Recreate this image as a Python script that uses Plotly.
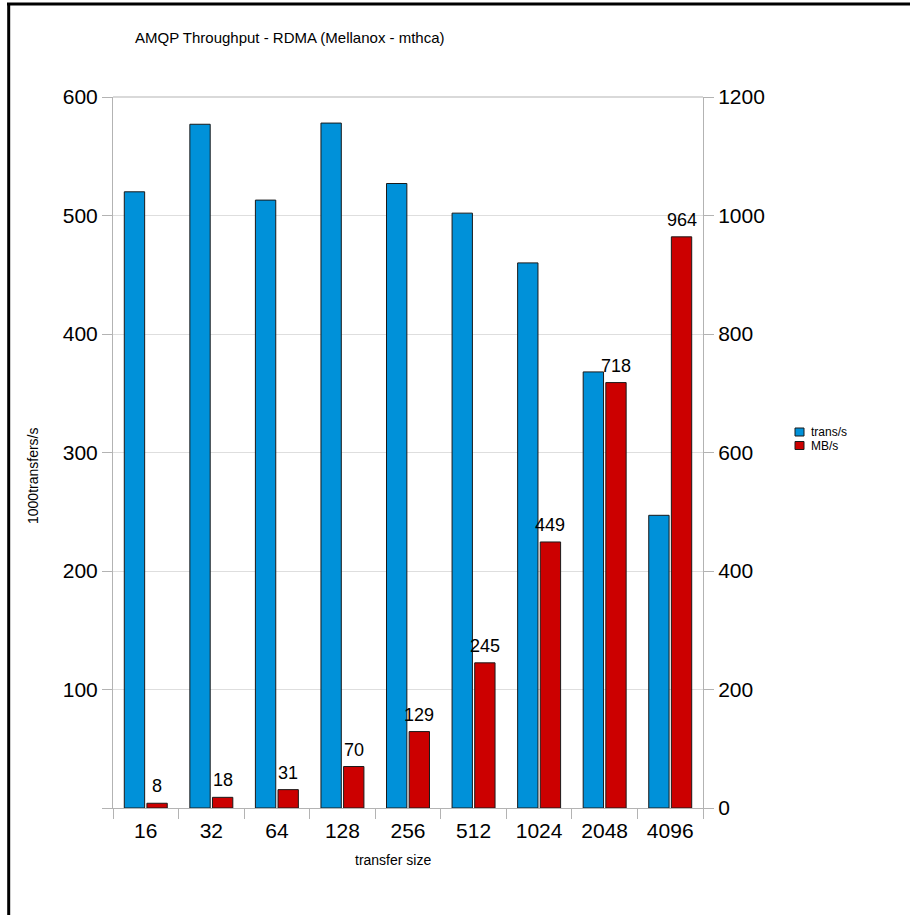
import plotly.graph_objects as go

# Transfer sizes (bytes) and measured throughput per size
sizes = ["16", "32", "64", "128", "256", "512", "1024", "2048", "4096"]
trans_per_s = [520, 577, 513, 578, 527, 502, 460, 368, 247]   # 1000 transfers/s
mb_per_s = [8, 18, 31, 70, 129, 245, 449, 718, 964]          # MB/s

series_names = ["trans/s", "MB/s"]

left_ticks = [0, 100, 200, 300, 400, 500, 600]
left_labels = ["", "100", "200", "300", "400", "500", "600"]
right_ticks = [0, 200, 400, 600, 800, 1000, 1200]

BLUE = "#0091d9"
RED = "#cc0000"
AXIS = "#b3b3b3"
GRID = "#dedede"
EDGE = "#1a1a1a"
FONT = "Liberation Sans, Arial, sans-serif"

W, H = 910, 915
ML, MR, MT, MB = 113, 207, 97, 107
PW, PH = W - ML - MR, H - MT - MB

BARGAP = 0.31
CAT_W = PW / len(sizes)
# centre of the second bar in each group, relative to the category centre
RED_SHIFT = CAT_W * (1 - BARGAP) / 4


def px_x(x):
    return (x - ML) / PW


def px_y(y):
    return (H - MB - y) / PH


fig = go.Figure()
fig.add_trace(go.Bar(
    x=sizes, y=trans_per_s, name=series_names[0], yaxis="y",
    offsetgroup="a",
    marker=dict(color=BLUE, line=dict(color=EDGE, width=1)),
))
fig.add_trace(go.Bar(
    x=sizes, y=mb_per_s, name=series_names[1], yaxis="y2",
    offsetgroup="b",
    marker=dict(color=RED, line=dict(color=EDGE, width=1)),
))

annotations = []
# value labels above the MB/s bars (x given as category index)
for i, v in enumerate(mb_per_s):
    annotations.append(dict(
        x=i, y=v, xref="x", yref="y2", text=str(v), showarrow=False,
        xanchor="center", yanchor="bottom", xshift=RED_SHIFT, yshift=5,
        font=dict(size=18, family=FONT, color="#000000"),
    ))

# axis titles
annotations.append(dict(
    x=px_x(393), y=px_y(860), xref="paper", yref="paper",
    text="transfer size", showarrow=False, xanchor="center", yanchor="middle",
    font=dict(size=14, family=FONT, color="#000000"),
))
annotations.append(dict(
    x=px_x(33), y=px_y(476), xref="paper", yref="paper",
    text="1000transfers/s", showarrow=False, textangle=-90,
    xanchor="center", yanchor="middle",
    font=dict(size=14, family=FONT, color="#000000"),
))

# legend
shapes = []
legend_rows = [(series_names[0], BLUE, 432), (series_names[1], RED, 445.5)]
for name, color, yc in legend_rows:
    shapes.append(dict(
        type="rect", xref="paper", yref="paper",
        x0=px_x(795), x1=px_x(804), y0=px_y(yc - 4), y1=px_y(yc + 4),
        fillcolor=color, line=dict(color=EDGE, width=1),
    ))
    annotations.append(dict(
        x=px_x(809), y=px_y(yc), xref="paper", yref="paper",
        text=name, showarrow=False, xanchor="left", yanchor="middle",
        font=dict(size=12, family=FONT, color="#000000"),
    ))

# outer frame (top and left edges)
shapes.append(dict(type="line", xref="paper", yref="paper",
                   x0=px_x(7), x1=px_x(912), y0=px_y(4), y1=px_y(4),
                   line=dict(color="#000000", width=3)))
shapes.append(dict(type="line", xref="paper", yref="paper",
                   x0=px_x(8.7), x1=px_x(8.7), y0=px_y(3), y1=px_y(918),
                   line=dict(color="#000000", width=3)))
# top edge of the plot area
shapes.append(dict(type="line", xref="paper", yref="paper",
                   x0=0, x1=1, y0=1, y1=1, layer="below",
                   line=dict(color=AXIS, width=1)))

fig.update_layout(
    width=W, height=H,
    margin=dict(l=ML, r=MR, t=MT, b=MB),
    paper_bgcolor="white", plot_bgcolor="white",
    font=dict(family=FONT, color="#000000"),
    barmode="group", bargap=BARGAP, bargroupgap=0.1,
    showlegend=False,
    title=dict(
        text="AMQP Throughput - RDMA (Mellanox - mthca)",
        x=135 / W, xanchor="left", y=1 - 38 / H, yanchor="middle",
        font=dict(size=15, family=FONT, color="#000000"),
    ),
    xaxis=dict(
        type="category", tickson="boundaries",
        range=[-0.5, len(sizes) - 0.5], autorange=False,
        ticks="outside", ticklen=10, tickcolor=AXIS,
        showline=True, linecolor=AXIS, linewidth=1,
        showgrid=False, tickangle=0,
        tickfont=dict(size=21), ticklabelstandoff=4,
    ),
    yaxis=dict(
        range=[0, 600], tickvals=left_ticks, ticktext=left_labels,
        ticks="outside", ticklen=10, tickcolor=AXIS,
        showline=True, linecolor=AXIS, linewidth=1,
        showgrid=True, gridcolor=GRID, gridwidth=1,
        zeroline=False,
        tickfont=dict(size=21),
    ),
    yaxis2=dict(
        range=[0, 1200], tickvals=right_ticks,
        overlaying="y", side="right",
        ticks="outside", ticklen=10, tickcolor=AXIS,
        showline=True, linecolor=AXIS, linewidth=1,
        showgrid=False, zeroline=False,
        tickfont=dict(size=21),
    ),
    shapes=shapes,
    annotations=annotations,
)

fig.write_html("out.html")
